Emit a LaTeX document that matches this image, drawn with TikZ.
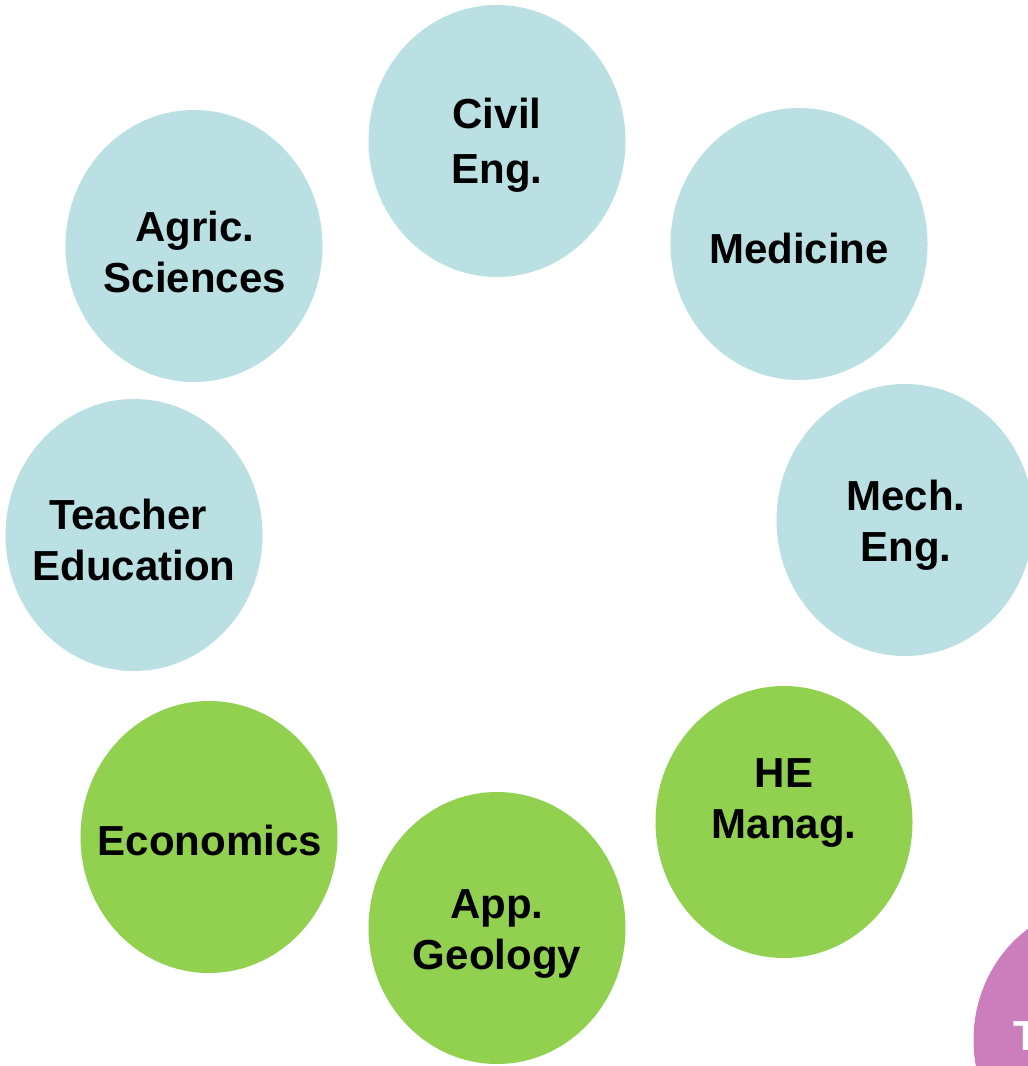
\documentclass[tikz,border=0pt]{standalone}
\usepackage{fontspec}
\setmainfont{Liberation Sans}
\usetikzlibrary{shapes.geometric}
\definecolor{cblue}{RGB}{186,224,227}
\definecolor{cgreen}{RGB}{146,208,80}
\definecolor{cpurple}{RGB}{204,125,187}
\tikzset{
  bubble/.style={ellipse, minimum width=257pt, minimum height=272pt, inner sep=0pt, draw=none},
  bluebub/.style={bubble, fill=cblue},
  greenbub/.style={bubble, fill=cgreen},
  txt/.style={align=center, font=\fontsize{42pt}{51pt}\selectfont\bfseries, text=black, inner sep=0pt}
}
\begin{document}
\begin{tikzpicture}[x=1pt,y=-1pt]
\clip (0,0) rectangle (1028,1066);
\fill[white] (0,0) rectangle (1028,1066);
\node[bluebub] (civil) at (497,141) {};
\node[bluebub] (med) at (799,244) {};
\node[bluebub] (agric) at (194,246) {};
\node[bluebub] (teach) at (134,535) {};
\node[bluebub] (mech) at (905,520) {};
\node[greenbub] (he) at (784,822) {};
\node[greenbub] (econ) at (209,837) {};
\node[greenbub] (geo) at (497,928) {};
\node[bubble, fill=cpurple] (purple) at (1102,1040) {};
\node[txt, font=\fontsize{42pt}{55pt}\selectfont\bfseries] (tcivil) at (497,145) {Civil\\Eng.};
\node[txt] (tmed) at (799,248) {Medicine};
\node[txt] (tagric) at (195,252) {Agric.\\Sciences};
\node[txt] (tteach) at (134,540) {Teacher\hspace*{12pt}\\Education};
\node[txt] (tmech) at (906,525) {Mech.\\Eng.};
\node[txt] (the) at (784,803) {HE\\Manag.};
\node[txt] (tecon) at (210,840) {Economics};
\node[txt] (tgeo) at (497,934) {App.\\Geology};
\node[txt, text=white, anchor=base west] (tpurple) at (1013,1050) {T};
\end{tikzpicture}
\end{document}
